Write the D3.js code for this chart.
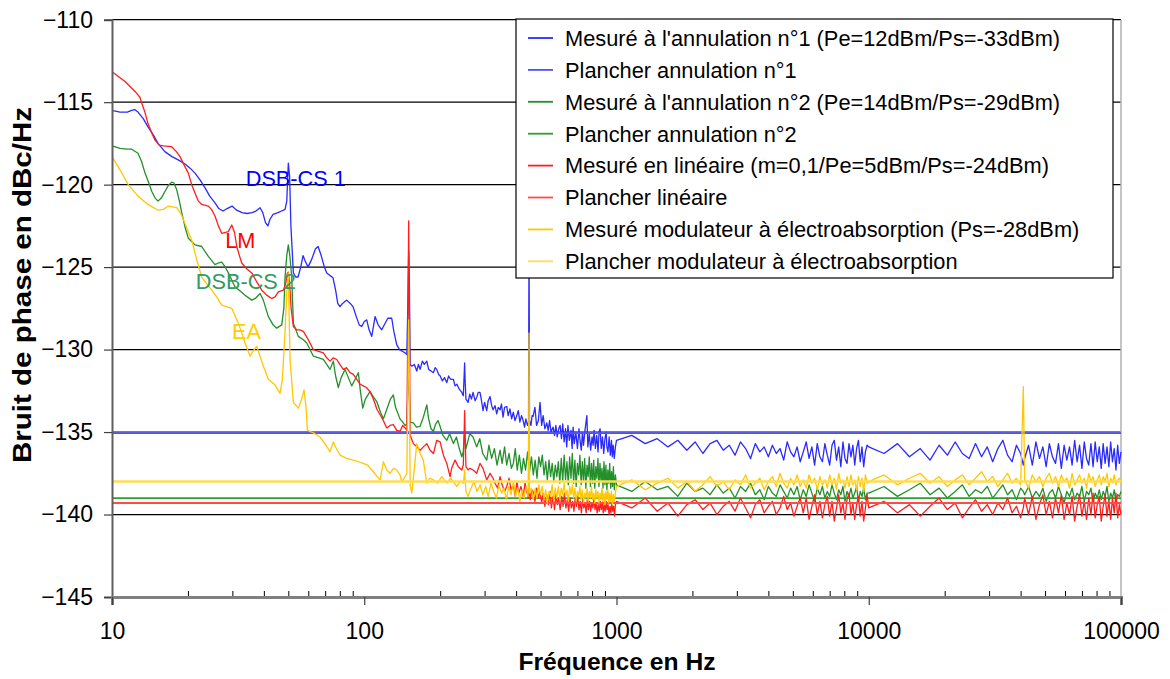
<!DOCTYPE html>
<html><head><meta charset="utf-8">
<script src="https://d3js.org/d3.v7.min.js"></script>
<style>
body{margin:0;background:#fff}
svg text{font-family:"Liberation Sans",Arial,sans-serif}
</style></head>
<body><svg id="c" width="1170" height="679"></svg>
<script>
// ---------- DATA ----------
const yTicks=[-145,-140,-135,-130,-125,-120,-115,-110];
const xTicks=[10,100,1000,10000,100000];
const seriesNames=["Mesuré à l'annulation n°1 (Pe=12dBm/Ps=-33dBm)","Plancher annulation n°1",
"Mesuré à l'annulation n°2 (Pe=14dBm/Ps=-29dBm)","Plancher annulation n°2",
"Mesuré en linéaire (m=0,1/Pe=5dBm/Ps=-24dBm)","Plancher linéaire",
"Mesuré modulateur à électroabsorption (Ps=-28dBm)","Plancher modulateur à électroabsorption"];
// floors (dBc/Hz): annulation 1, annulation 2, linéaire, EA
const floorLevels=[-135.07,-139.0,-139.3,-138.0];
const annotations=[["DSB-CS 1",33.9,-120.08],["LM",28.1,-123.84],["DSB-CS 2",21.5,-126.32],["EA",29.9,-129.35]];

const mes1Low=[[10,-115.5],[10.76,-115.6],[11.5,-115.6],[11.97,-115.5],[12.3,-115.45],[12.68,-115.6],[13.3,-116.0],[13.89,-116.5],[14.6,-117.0],[15.22,-117.5],[16.2,-118.0],[17.29,-118.3],[18.3,-118.5],[19.47,-118.75],[20.4,-119.0],[21.33,-119.3],[22.3,-119.7],[23.38,-120.2],[24.4,-120.7],[25.61,-121.1],[26.5,-121.45],[27.55,-121.6],[28.6,-121.45],[29.92,-121.3],[31.2,-121.55],[32.77,-121.7],[34.3,-121.75],[35.91,-121.7],[37.2,-121.6],[38.63,-121.4],[39.6,-121.7],[40.6,-122.3],[41.5,-122.5],[42.3,-122.1],[43.5,-121.8],[45.53,-121.7],[47.0,-121.6],[48.53,-121.5],[49.3,-121.0],[50.0,-118.7],[50.6,-119.5],[51.2,-122.5],[52.35,-125.35],[53.5,-125.6],[54.64,-125.6],[56.0,-125.0],[57.19,-124.3],[58.2,-124.6],[59.88,-125.0],[62.0,-124.5],[64.0,-123.9],[65.6,-123.75],[67.5,-124.3],[69.5,-125.0],[71.0,-125.35],[73.0,-125.5],[75.2,-125.65],[77.0,-126.4],[78.5,-127.2],[80.17,-127.4],[82.0,-127.2],[85.22,-127.0],[88.0,-127.2],[90.27,-127.4],[93.0,-128.0],[95.5,-128.5],[97.75,-128.6],[100.0,-128.3],[102.3,-128.2],[104.5,-128.8],[107.1,-129.2],[109.0,-128.5],[110.4,-128.0],[113.5,-128.5],[117.3,-128.8],[121.0,-128.4],[124.0,-128.1],[128.5,-128.1],[131.0,-128.9],[134.5,-129.7],[138.0,-130.0],[141.5,-130.1],[145.2,-130.2],[147.5,-130.3],[149,-127],[150,-124.0],[151,-126],[152,-130.9],[154.3,-131.0],[158,-130.9],[161.5,-131.3],[164,-130.9],[166.5,-131.2],[170,-130.7],[173,-130.9],[177,-130.7],[180,-131.2],[184,-131.3],[188,-131.4],[191,-131.1],[193.8,-131.2],[197,-131.5],[200,-131.6],[204,-131.9],[208,-131.7],[212.4,-132.0],[216,-131.6],[220,-131.8],[225.6,-131.8],[229,-132.2],[233,-132.1],[238,-132.4],[243.6,-132.6],[247,-132.8],[249,-131.5],[250,-130.8],[251,-131.8],[253,-133.0],[258,-133.2],[262,-132.7],[266,-133.0],[270,-132.6],[275,-133.1],[279,-132.9],[283,-132.6],[287.6,-132.6],[291,-133.0],[295.7,-133.7],[300,-133.2],[305.9,-133.7],[310,-133.1],[315.4,-132.85],[320,-133.4],[324.1,-133.65],[330,-133.4],[335,-133.9],[340,-133.5],[345.5,-133.65],[350,-133.3],[355,-134.1],[360,-133.5],[367.2,-133.45],[372,-134.0],[378,-133.6],[384,-134.2],[390,-133.8],[396,-134.3],[402.5,-134.0],[408,-133.7],[414,-134.4],[420,-134.0],[426.5,-134.3],[432,-134.7],[437,-134.2],[444,-134.6],[448,-134.4],[449,-128],[450,-123.5],[451,-128],[452,-134.3],[458,-134.6],[463,-134.0],[467,-134.05],[475,-133.5],[482,-134.6],[490,-134.3],[497.6,-133.2],[505,-134.6],[512,-134.0],[520,-134.8],[529.2,-134.45],[536,-134.9],[543,-134.3],[550,-135.0],[560.7,-134.7],[568,-135.2],[575,-134.6],[582,-135.3],[590,-134.8],[597.6,-134.6],[605,-135.4],[612,-134.5],[620,-135.6],[628,-134.8],[635,-135.9],[642,-134.6],[650,-135.5],[660,-134.9],[667,-136.0],[673,-134.7],[680,-135.7],[690,-135.0],[700,-136.0],[710,-134.8],[718,-135.6],[725,-136.1],[733,-135.0],[740,-135.8],[750,-134.9],[763,-134.0],[770,-135.9],[780,-135.1],[790,-136.1],[800,-135.3],[808,-135.8],[815,-134.9],[825,-136.0],[835,-135.2],[845,-136.2],[853,-135.0],[861,-134.8],[870,-136.0],[880,-135.3],[890,-136.3],[900,-135.4],[910,-135.0],[916,-135.9],[925,-136.2],[935,-135.3],[945,-136.4],[955,-135.5],[962,-136.5],[970,-135.8],[980,-136.6],[990,-135.9]];

const mes2Low=[[10,-117.65],[10.76,-117.8],[11.5,-117.85],[11.97,-117.85],[12.68,-118.1],[13.1,-118.6],[13.52,-119.3],[14.0,-119.9],[14.37,-120.4],[14.8,-120.8],[15.22,-121.0],[15.7,-120.8],[16.23,-120.4],[16.8,-120.0],[17.24,-119.85],[17.6,-119.9],[18.05,-120.3],[18.5,-121.0],[18.9,-121.7],[19.5,-122.6],[20.07,-123.25],[21.33,-123.65],[22.68,-123.75],[24.09,-124.35],[25.61,-124.85],[26.4,-124.75],[27.23,-124.7],[28.0,-124.95],[28.92,-125.35],[30.75,-126.2],[32.5,-126.5],[33.68,-126.7],[35.81,-127.0],[37.0,-126.9],[38.63,-126.6],[39.8,-127.0],[41.67,-128.0],[43.5,-128.5],[44.98,-128.7],[47.09,-128.5],[48.0,-127.5],[48.53,-125.6],[49.3,-124.3],[50.0,-123.65],[50.7,-124.3],[51.58,-125.6],[52.35,-128.4],[54.79,-129.2],[57.35,-129.4],[59.16,-129.6],[62.85,-130.4],[66.0,-130.5],[68.83,-130.6],[71,-130.9],[73.17,-131.2],[75.41,-130.7],[77.0,-131.6],[78.94,-132.3],[81.0,-131.7],[83.9,-131.2],[86.5,-131.7],[89.19,-132.2],[92,-131.8],[94.76,-131.4],[96.5,-132.5],[98.65,-133.55],[101,-133.0],[105.4,-132.55],[109,-132.9],[112.1,-133.15],[116,-133.8],[119.1,-134.2],[123,-133.6],[127,-133.0],[130.4,-132.75],[133,-133.5],[138.6,-134.2],[142,-134.4],[145.2,-134.6],[147.5,-134.5],[149,-132.5],[150,-131.0],[151,-132.5],[152,-134.4],[156.6,-134.45],[161,-134.7],[166.5,-134.65],[171.5,-134.1],[177.0,-133.35],[180,-134.2],[184,-134.8],[188.0,-134.95],[192,-134.5],[196,-134.3],[199.8,-134.65],[205,-135.2],[212.4,-135.5],[218,-135.1],[225.6,-135.7],[232,-135.3],[238,-136.0],[243.6,-136.5],[247,-136.2],[249,-135.3],[250,-135.0],[251,-135.4],[253,-136.0],[258,-135.5],[262,-135.1],[270,-135.3],[279,-135.9],[287,-135.4],[295,-136.3],[305.9,-136.7],[312,-135.8],[320,-136.6],[328,-136.0],[336,-137.0],[345.5,-136.1],[352,-136.9],[360,-135.9],[367,-137.0],[375,-136.3],[383,-137.2],[390,-136.9],[397,-136.0],[404,-137.3],[412,-136.4],[420,-137.5],[428,-136.6],[436,-137.3],[444,-136.2],[452,-137.4],[460,-136.5],[468,-137.6],[476,-136.7],[484,-137.8],[492,-136.5],[500,-137.1],[508,-136.4],[516,-137.6],[524,-136.8],[532,-137.9],[540,-136.7],[548,-137.7],[556,-136.9],[564,-138.0],[572,-137.0],[580,-137.7],[588,-136.8],[596,-138.1],[604,-136.6],[612,-138.0],[620,-136.4],[628,-137.9],[636,-136.8],[644,-138.2],[652,-136.5],[660,-137.8],[668,-136.3],[676,-138.1],[684,-136.7],[692,-138.3],[700,-136.9],[708,-137.6],[716,-136.4],[724,-138.2],[732,-136.8],[740,-138.0],[748,-136.6],[756,-138.4],[764,-137.0],[772,-137.7],[780,-136.5],[788,-138.3],[796,-136.9],[804,-138.1],[812,-136.7],[820,-138.4],[828,-137.1],[836,-137.8],[844,-136.6],[852,-138.3],[860,-136.9],[868,-138.0],[876,-137.2],[884,-138.4],[892,-136.8],[900,-138.2],[908,-137.0],[916,-138.5],[924,-137.3],[932,-138.1],[940,-136.9],[948,-138.4],[956,-137.4],[964,-138.3],[972,-137.1],[980,-138.5],[990,-137.6]];

const mesLinLow=[[10,-113.15],[10.5,-113.4],[11.26,-113.75],[12.34,-114.35],[12.9,-114.7],[13.11,-115.05],[13.5,-115.6],[13.89,-116.3],[14.4,-116.9],[14.81,-117.3],[15.4,-117.6],[15.97,-117.65],[17.24,-117.7],[18.0,-118.0],[18.60,-118.3],[19.3,-118.8],[20.07,-119.3],[20.7,-120.0],[21.33,-120.5],[22.0,-121.0],[22.68,-121.2],[24.09,-121.3],[24.8,-121.5],[25.61,-121.9],[26.4,-122.5],[27.23,-122.95],[28.2,-122.9],[28.92,-122.85],[29.84,-122.45],[30.6,-122.9],[31.23,-123.75],[32.0,-124.3],[32.68,-124.75],[34.2,-125.1],[35.81,-125.35],[37.5,-125.9],[39.24,-126.4],[41.0,-126.7],[42.98,-126.9],[44.3,-126.8],[45.65,-126.5],[47.78,-126.4],[48.8,-126.0],[49.5,-125.4],[50.0,-125.3],[50.6,-126.0],[51.3,-127.5],[52.35,-128.6],[54.0,-128.8],[55.5,-128.8],[57.35,-128.9],[59.5,-129.3],[62.85,-130.0],[65.5,-130.1],[68.83,-130.2],[71.0,-130.5],[73.17,-130.7],[75.4,-130.5],[77.8,-130.6],[80.0,-130.9],[82.6,-131.2],[85.0,-131.1],[87.82,-131.4],[90.5,-131.5],[93.39,-131.8],[96.3,-132.1],[99.18,-132.2],[102,-132.3],[105.4,-132.55],[108,-132.9],[110.5,-133.3],[112.1,-133.6],[115.6,-133.95],[119,-134.3],[122.8,-134.75],[126.6,-134.6],[130.4,-134.55],[134.5,-134.9],[138.6,-134.95],[142,-134.6],[145.2,-134.75],[147.5,-134.9],[149,-128],[150,-122.2],[151,-128],[152,-135.2],[156.6,-135.7],[161.5,-135.9],[166.5,-136.1],[171.5,-135.9],[177.0,-135.7],[182.4,-136.1],[188.0,-136.3],[193.8,-135.5],[199.8,-135.6],[206,-136.4],[212.4,-136.9],[218.9,-137.7],[222,-137.2],[229.1,-136.7],[236,-137.1],[243.6,-137.3],[247,-137.0],[249,-135],[250,-133.7],[251,-135],[253,-137.1],[258,-137.3],[262.5,-137.2],[270,-137.3],[279,-137.5],[287.6,-136.9],[295.7,-137.2],[305.9,-137.9],[315.4,-137.5],[324,-137.8],[330,-138.1],[338,-138.4],[345.5,-137.7],[352,-138.2],[360,-138.6],[367.2,-138.3],[375,-137.8],[382,-138.5],[390,-138.2],[397,-138.9],[402.5,-138.0],[410,-138.7],[418,-138.3],[426.5,-138.9],[434,-138.1],[440.8,-138.6],[447,-139.0],[450,-138.4],[455,-139.1],[462,-138.5],[467,-138.6],[475,-139.2],[483,-138.4],[490,-139.0],[497.6,-138.6],[505,-139.3],[512,-138.7],[520,-139.5],[529,-138.8],[537,-139.4],[545,-138.6],[552,-139.6],[560,-138.9],[568,-139.7],[575,-138.8],[583,-139.4],[590,-139.0],[598,-139.7],[606,-138.9],[614,-139.5],[622,-138.7],[630,-139.6],[638,-139.1],[646,-139.8],[654,-139.0],[662,-139.6],[670,-139.2],[678,-139.8],[686,-139.0],[694,-139.5],[702,-138.9],[710,-139.7],[718,-139.2],[726,-139.9],[734,-139.1],[742,-139.6],[750,-139.3],[758,-139.9],[766,-139.1],[774,-139.7],[782,-139.2],[790,-139.8],[798,-139.3],[806,-139.6],[814,-139.0],[822,-139.7],[830,-139.3],[838,-139.9],[846,-139.4],[854,-139.8],[862,-139.2],[870,-139.7],[878,-139.3],[886,-139.9],[894,-139.4],[902,-139.8],[910,-139.2],[918,-139.7],[926,-139.4],[934,-140.0],[942,-139.5],[950,-139.9],[958,-139.3],[966,-139.8],[974,-139.5],[982,-140.1],[990,-139.4]];

const mesEALow=[[10,-118.3],[10.76,-119.1],[11.6,-120.0],[12.68,-120.7],[13.89,-121.2],[15.22,-121.55],[16.0,-121.5],[16.72,-121.3],[18.05,-121.4],[18.8,-121.8],[19.47,-122.35],[20.1,-122.9],[20.7,-123.35],[21.67,-124.55],[22.68,-125.6],[23.7,-126.0],[24.85,-126.4],[26.0,-126.8],[27.23,-127.3],[29.84,-127.5],[31.68,-128.4],[32.7,-129.0],[33.68,-129.6],[35.26,-130.4],[36.2,-130.1],[37.49,-129.8],[38.6,-130.4],[39.81,-131.0],[41.67,-131.8],[44.3,-132.15],[46.37,-132.65],[47.35,-131.8],[48.5,-129.0],[49.28,-126.6],[50.0,-125.35],[50.79,-130.6],[52.35,-133.2],[54.79,-133.55],[56.5,-133.0],[57.72,-132.45],[58.8,-133.5],[59.5,-134.9],[62.85,-135.05],[66.8,-135.3],[70.5,-135.8],[73.17,-136.2],[75.41,-135.6],[77.5,-136.0],[80.17,-136.4],[85,-136.6],[90.53,-136.7],[95,-136.8],[99.18,-136.9],[103,-137.0],[107.1,-137.3],[110,-137.5],[112.5,-137.7],[115.6,-137.9],[117.5,-137.3],[119.1,-136.8],[122.8,-137.3],[126.6,-137.5],[130.4,-137.2],[134.5,-137.3],[138.6,-137.6],[140.8,-138.0],[145.2,-137.7],[147.5,-137.5],[149,-132],[150,-128.2],[151,-132],[152,-138.2],[154.3,-138.7],[158,-137.2],[161.5,-135.7],[166.5,-136.3],[171.5,-136.7],[177.0,-138.1],[182,-137.8],[188.0,-137.9],[195,-138.1],[203,-137.7],[212.4,-138.1],[220,-137.8],[232.6,-138.3],[240,-138.0],[247.2,-138.1],[249,-137.6],[250,-137.3],[251,-137.8],[253,-138.6],[258,-138.9],[265,-138.4],[272,-138.0],[280,-138.6],[288,-138.2],[295,-138.8],[303,-138.3],[310,-138.9],[318,-138.1],[326,-138.6],[334,-139.0],[342,-138.2],[350,-138.7],[358,-138.4],[366,-139.1],[374,-138.3],[382,-138.8],[390,-138.0],[398,-138.9],[406,-138.4],[414,-139.2],[422,-138.5],[430,-139.0],[438,-138.3],[446,-138.9],[449,-134],[450,-129.0],[451,-134],[452,-138.7],[460,-138.4],[468,-139.1],[476,-138.4],[484,-139.0],[492,-138.2],[500,-138.8],[508,-138.3],[516,-139.1],[524,-138.5],[532,-139.3],[540,-138.6],[548,-138.9],[556,-138.2],[564,-139.2],[572,-138.4],[580,-139.0],[588,-138.3],[596,-139.1],[604,-138.4],[612,-138.8],[620,-138.1],[628,-138.9],[636,-138.5],[644,-139.2],[652,-138.3],[660,-138.8],[668,-138.2],[676,-139.0],[684,-138.4],[692,-139.2],[700,-138.6],[708,-138.9],[716,-138.3],[724,-139.1],[732,-138.5],[740,-139.3],[748,-138.7],[756,-139.0],[764,-138.4],[772,-139.2],[780,-138.6],[788,-139.0],[796,-138.3],[804,-139.1],[812,-138.7],[820,-139.3],[828,-138.5],[836,-139.0],[844,-138.6],[852,-139.3],[860,-138.7],[868,-139.1],[876,-138.4],[884,-139.2],[892,-138.7],[900,-139.4],[908,-138.6],[916,-139.1],[924,-138.5],[932,-139.3],[940,-138.7],[948,-139.2],[956,-138.6],[964,-139.4],[972,-138.8],[980,-139.2],[990,-138.7]];

// shared frequency grid above 1 kHz (Hz)
const fHigh=[1000,1150,1300,1450,1600,1750,1900,2050,2200,2350,
2500,2650,2800,2950,3100,3250,3400,3550,3700,3850,
4000,4150,4300,4450,4600,4750,4900,5050,5200,5350,
5500,5650,5800,5950,6100,6250,6400,6550,6700,6850,
7000,7150,7300,7450,7600,7750,7900,8050,8200,8350,
8500,8650,8800,8950,9100,9250,9400,9550,9700,9850,
10000,11500,13000,14500,16000,17500,19000,20500,22000,23500,
25000,26500,28000,29500,31000,32500,34000,35500,37000,38500,
40000,41000,41500,43000,44500,46000,47500,49000,50500,52000,
53500,55000,56500,58000,59500,61000,62500,64000,65500,67000,
68500,70000,71500,73000,74500,76000,77500,79000,80500,82000,
83500,85000,86500,88000,89500,91000,92500,94000,95500,97000,
98500,100000];
const mes1High=[-135.5,-135.2,-135.7,-135.4,-135.9,-135.5,-136.1,-135.6,-136.3,-135.7,
-135.5,-136.1,-135.8,-136.4,-135.6,-136.0,-136.6,-135.7,-136.2,-135.9,
-136.5,-135.8,-136.3,-136.0,-136.7,-135.6,-136.2,-136.5,-135.9,-136.8,
-136.2,-135.6,-136.6,-135.9,-137.0,-135.7,-136.5,-136.8,-135.7,-136.4,
-137.0,-135.8,-135.5,-136.7,-135.9,-137.1,-135.6,-136.6,-136.9,-135.7,
-136.5,-135.8,-137.0,-136.0,-135.5,-136.8,-135.9,-137.1,-136.2,-135.8,
-135.9,-136.3,-135.7,-136.5,-136.0,-136.7,-135.8,-136.4,-135.6,-136.3,
-136.6,-135.7,-136.5,-135.9,-136.8,-136.0,-135.5,-136.4,-136.8,-135.8,
-136.3,-137.0,-136.6,-135.8,-137.0,-135.6,-136.6,-135.9,-137.1,-135.7,
-136.5,-136.9,-135.7,-137.2,-135.8,-136.7,-135.9,-137.0,-135.5,-136.8,
-135.8,-137.2,-135.6,-136.6,-137.0,-135.7,-137.1,-135.6,-136.8,-135.9,
-137.2,-135.7,-136.9,-135.9,-137.1,-135.6,-136.8,-136.0,-137.3,-135.8,
-136.9,-136.2];
const mes2High=[-138.2,-138.6,-138.0,-138.5,-138.3,-138.9,-138.1,-138.6,-138.4,-138.8,
-138.2,-138.7,-138.4,-139.0,-138.3,-138.6,-138.1,-138.8,-138.5,-139.1,
-138.3,-138.7,-138.9,-138.2,-138.6,-139.0,-138.4,-138.8,-138.3,-139.1,
-138.5,-138.9,-138.2,-138.7,-139.2,-138.4,-138.8,-138.3,-139.0,-138.6,
-138.9,-138.2,-138.7,-139.1,-138.5,-138.8,-138.3,-139.2,-138.6,-138.9,
-138.4,-139.0,-138.7,-138.3,-139.2,-138.6,-138.9,-138.4,-139.1,-138.7,
-138.7,-138.3,-138.9,-138.5,-138.1,-138.8,-138.4,-139.0,-138.6,-138.2,
-138.9,-138.5,-138.7,-138.3,-139.0,-138.6,-138.2,-138.8,-138.5,-139.1,
-138.4,-138.6,-138.8,-138.3,-139.0,-138.6,-138.9,-138.4,-139.2,-138.7,
-138.5,-139.0,-138.3,-138.8,-139.3,-138.6,-138.9,-138.4,-139.1,-138.7,
-138.9,-138.3,-139.2,-138.6,-138.8,-138.4,-139.3,-138.7,-139.0,-138.5,
-139.1,-138.6,-138.9,-138.3,-139.2,-138.7,-139.0,-138.5,-139.3,-138.8,
-138.9,-138.6];
const mesLinHigh=[-139.2,-139.6,-139.0,-139.8,-139.3,-140.1,-139.4,-139.1,-139.7,-139.3,
-140.0,-139.5,-139.2,-139.8,-139.0,-139.6,-140.2,-139.4,-139.1,-139.9,
-139.5,-139.2,-140.0,-139.6,-138.9,-139.7,-139.3,-140.1,-139.5,-139.0,
-139.9,-139.0,-140.3,-139.5,-138.8,-140.0,-139.2,-140.2,-139.4,-138.9,
-140.1,-139.2,-140.4,-139.6,-138.8,-139.9,-139.3,-140.3,-139.1,-138.7,
-140.0,-139.3,-140.3,-139.4,-138.9,-140.1,-139.2,-140.4,-139.6,-138.8,
-139.6,-139.2,-139.9,-139.4,-140.1,-139.5,-139.0,-139.7,-139.3,-140.2,
-139.6,-139.1,-139.8,-139.4,-140.0,-139.3,-139.7,-139.0,-139.9,-139.5,
-140.2,-139.6,-139.0,-140.0,-138.9,-140.3,-139.4,-138.8,-140.0,-139.2,
-140.2,-139.0,-139.9,-138.8,-140.3,-139.3,-140.0,-138.9,-140.4,-139.5,
-138.8,-140.1,-139.2,-140.3,-139.0,-140.0,-138.7,-140.2,-139.4,-138.9,
-140.4,-139.5,-138.8,-140.1,-139.2,-140.3,-139.0,-139.9,-138.7,-140.2,
-139.4,-140.0];
const mesEAHigh=[-138.3,-137.9,-138.5,-138.1,-137.8,-138.4,-138.0,-138.6,-138.2,-137.7,
-138.3,-138.0,-138.5,-137.9,-138.2,-137.6,-138.4,-138.1,-137.8,-138.5,
-138.0,-137.7,-138.3,-137.5,-138.1,-138.4,-137.8,-138.2,-137.6,-138.3,
-137.9,-138.4,-137.6,-138.1,-137.8,-138.5,-137.7,-138.2,-137.9,-138.4,
-137.6,-138.2,-137.8,-138.5,-137.5,-138.1,-137.9,-138.4,-137.7,-138.3,
-137.6,-138.2,-137.9,-138.5,-137.7,-138.3,-137.8,-138.6,-137.6,-138.1,
-138.0,-137.6,-138.2,-137.8,-137.5,-138.1,-137.7,-138.3,-137.9,-137.6,
-138.2,-137.8,-137.4,-138.0,-137.7,-138.3,-137.9,-137.5,-138.1,-137.8,
-138.2,-132.25,-137.9,-138.4,-137.6,-138.0,-137.7,-138.3,-137.8,-137.5,
-138.1,-137.7,-138.3,-137.6,-138.0,-137.8,-138.4,-137.5,-138.2,-137.9,
-137.6,-138.1,-137.8,-138.4,-137.5,-138.0,-137.7,-138.3,-137.9,-137.6,
-138.2,-137.7,-138.0,-137.5,-138.3,-137.8,-138.1,-137.6,-138.2,-137.9,
-137.8,-138.0];

// ---------- STYLE ----------
const measColors=["#2a2aff","#23902a","#ff1e1e","#ffc800"];
const floorColors=["#5050ff","#2fa02f","#ff4a4a","#ffdc55"];
const annColors=["#0000ff","#ff0000","#339966","#ffcc00"];
const L=112,R=1121,T=19.7,B=597;

const svg=d3.select("#c");
const x=d3.scaleLog().domain([10,100000]).range([L,R]);
const y=d3.scaleLinear().domain([-145,-110]).range([B,T]);

// gridlines
svg.append("g").selectAll("line").data(yTicks.filter(v=>v>-145)).join("line")
 .attr("x1",L).attr("x2",R).attr("y1",d=>y(d)).attr("y2",d=>y(d))
 .attr("stroke",d=>d===-135?"#808080":"#000").attr("stroke-width",d=>d===-135?2.2:1.2);
svg.append("line").attr("x1",R).attr("x2",R).attr("y1",T).attr("y2",B).attr("stroke","#b0b0b0").attr("stroke-width",1.5);

// series
const line=d3.line().x(d=>x(d[0])).y(d=>y(d[1]));
const meas=[[mes1Low,mes1High],[mes2Low,mes2High],[mesLinLow,mesLinHigh],[mesEALow,mesEAHigh]];
const gS=svg.append("g");
meas.forEach((m,i)=>{
  const pts=m[0].concat(fHigh.map((f,j)=>[f,m[1][j]]));
  gS.append("path").datum(pts).attr("d",line).attr("fill","none")
    .attr("stroke",measColors[i]).attr("stroke-width",1.3).attr("stroke-linejoin","round");
  gS.append("path").datum([[10,floorLevels[i]],[100000,floorLevels[i]]]).attr("d",line)
    .attr("fill","none").attr("stroke",floorColors[i]).attr("stroke-width",i===3?2.4:1.8);
});

// axes
const yAxis=svg.append("g").attr("transform",`translate(${L},0)`)
  .call(d3.axisLeft(y).tickValues(yTicks).tickSize(8).tickPadding(11).tickFormat(d3.format("d")));
yAxis.select(".domain").attr("stroke","#606060").attr("stroke-width",2);
yAxis.selectAll(".tick line").attr("stroke","#404040").attr("stroke-width",1.2);
yAxis.selectAll("text").attr("font-size",23).attr("fill","#000").attr("font-family","'Liberation Sans',Arial,sans-serif");

const minor=[];
for(let d=10;d<100000;d*=10){for(let k=2;k<10;k++)minor.push(d*k);}
svg.append("g").attr("transform",`translate(0,${B})`)
  .call(d3.axisBottom(x).tickValues(minor).tickSize(-6).tickFormat(""))
  .call(g=>g.select(".domain").remove())
  .selectAll("line").attr("stroke","#000").attr("stroke-width",1);
const xAxis=svg.append("g").attr("transform",`translate(0,${B})`)
  .call(d3.axisBottom(x).tickValues(xTicks).tickSize(8).tickPadding(18).tickFormat(d3.format("d")));
xAxis.select(".domain").attr("stroke","#808080").attr("stroke-width",3);
xAxis.selectAll(".tick line").attr("stroke","#404040").attr("stroke-width",1.2);
xAxis.selectAll("text").attr("font-size",23).attr("fill","#000").attr("font-family","'Liberation Sans',Arial,sans-serif");

// axis titles
svg.append("text").attr("x",617).attr("y",670).attr("text-anchor","middle")
  .attr("font-size",24.5).attr("font-weight","bold")
  .attr("textLength",197).attr("lengthAdjust","spacingAndGlyphs").text("Fréquence en Hz");
svg.append("text").attr("transform","translate(31,285) rotate(-90)").attr("text-anchor","middle")
  .attr("font-size",25).attr("font-weight","bold")
  .attr("textLength",356).attr("lengthAdjust","spacingAndGlyphs").text("Bruit de phase en dBc/Hz");

// annotations
svg.append("g").selectAll("text").data(annotations).join("text")
  .attr("x",d=>x(d[1])).attr("y",d=>y(d[2])).attr("font-size",21.7)
  .attr("fill",(d,i)=>annColors[i]).text(d=>d[0]);

// legend
const lg=svg.append("g");
lg.append("rect").attr("x",516).attr("y",19).attr("width",597).attr("height",259)
  .attr("fill","#fff").attr("stroke","#000").attr("stroke-width",1.2);
seriesNames.forEach((n,i)=>{
  const cy=38+i*31.9;
  const c=i%2===0?measColors[i/2]:floorColors[(i-1)/2];
  lg.append("line").attr("x1",528).attr("x2",553).attr("y1",cy).attr("y2",cy)
    .attr("stroke",c).attr("stroke-width",1.8);
  lg.append("text").attr("x",565).attr("y",cy).attr("dy","0.36em").attr("font-size",21.8)
    .attr("fill","#000").text(n);
});
</script></body></html>
